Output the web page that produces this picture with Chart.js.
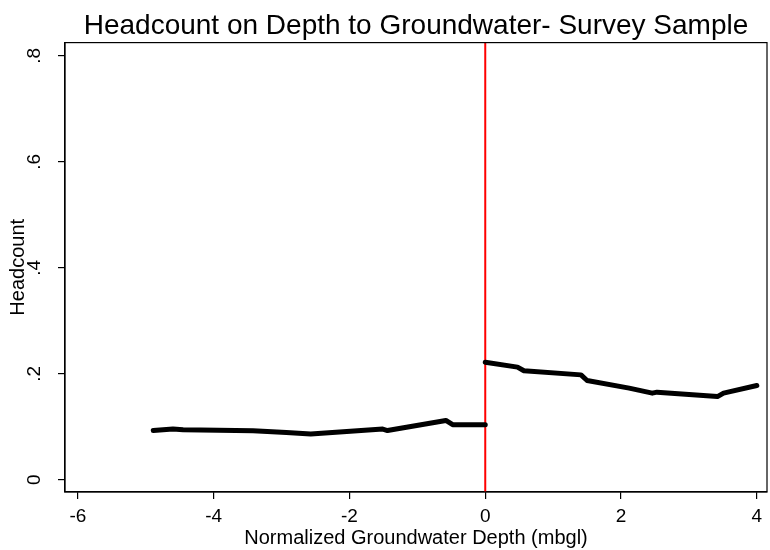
<!DOCTYPE html>
<html>
<head>
<meta charset="utf-8">
<script src="https://cdn.jsdelivr.net/npm/chart.js@4.4.1/dist/chart.umd.min.js"></script>
<style>
  html, body { margin: 0; padding: 0; background: #fff; }
  #wrap { width: 770px; height: 550px; }
</style>
</head>
<body>
<div id="wrap"><canvas id="headcount-chart" width="770" height="550"></canvas></div>
<script>
// values
var below_x = [-4.89, -4.60, -4.45, -3.42, -2.93, -2.57, -1.51, -1.44, -0.58, -0.48, 0];
var below_y = [0.093, 0.0957, 0.0943, 0.0925, 0.0892, 0.0865, 0.0957, 0.093, 0.112, 0.104, 0.104];
var above_x = [0, 0.475, 0.57, 1.41, 1.50, 2.12, 2.46, 2.53, 3.42, 3.51, 4.0];
var above_y = [0.222, 0.2126, 0.2057, 0.198, 0.1874, 0.173, 0.1635, 0.1654, 0.157, 0.1635, 0.178];
var x_ticks = [-6, -4, -2, 0, 2, 4];
var y_ticks = [0, 0.2, 0.4, 0.6, 0.8];
var y_tick_labels = ["0", ".2", ".4", ".6", ".8"];
var cutoff = 0;

var x_min = -6.19, x_max = 4.15;
var y_min = -0.023, y_max = 0.825;

var font_family = "'Liberation Sans', Arial, Helvetica, sans-serif";

function to_points(xs, ys) {
  return xs.map(function(x, i) { return { x: x, y: ys[i] } });
}

// box round the plot and rotated y tick labels
var frame_plugin = {
  id: 'frame',
  afterDraw: function(chart) {
    var ctx = chart.ctx;
    var area = chart.chartArea;
    ctx.save();
    ctx.strokeStyle = '#000';
    ctx.lineWidth = 1.2;
    ctx.strokeRect(area.left, area.top, area.right - area.left, area.bottom - area.top);

    var yScale = chart.scales.y;
    ctx.fillStyle = '#000';
    ctx.font = "19px " + font_family;
    ctx.textAlign = 'center';
    ctx.textBaseline = 'middle';
    y_ticks.forEach(function(v, i) {
      var py = yScale.getPixelForValue(v);
      ctx.save();
      ctx.translate(35, py);
      ctx.rotate(-Math.PI / 2);
      ctx.fillText(y_tick_labels[i], 0, 0);
      ctx.restore();
    });
    ctx.restore();
  }
};

var ctx = document.getElementById("headcount-chart").getContext('2d');
var chart = new Chart(ctx, {
  type: 'scatter',
  data: {
    datasets: [
      {
        label: 'below',
        data: to_points(below_x, below_y),
        showLine: true,
        borderColor: '#000',
        backgroundColor: '#000',
        borderWidth: 5,
        borderCapStyle: 'round',
        borderJoinStyle: 'round',
        pointRadius: 0,
        tension: 0
      },
      {
        label: 'above',
        data: to_points(above_x, above_y),
        showLine: true,
        borderColor: '#000',
        backgroundColor: '#000',
        borderWidth: 5,
        borderCapStyle: 'round',
        borderJoinStyle: 'round',
        pointRadius: 0,
        tension: 0
      },
      {
        label: 'cutoff',
        data: [{ x: cutoff, y: y_min }, { x: cutoff, y: y_max }],
        showLine: true,
        borderColor: '#ff0000',
        borderWidth: 2,
        pointRadius: 0
      }
    ]
  },
  options: {
    responsive: false,
    animation: false,
    layout: { padding: { left: 0, right: 3, top: 0, bottom: 0 } },
    scales: {
      x: {
        type: 'linear',
        min: x_min,
        max: x_max,
        afterBuildTicks: function(scale) {
          scale.ticks = x_ticks.map(function(v) { return { value: v } });
        },
        afterFit: function(scale) { scale.height = 58; },
        grid: {
          display: true,
          drawOnChartArea: false,
          drawTicks: true,
          tickLength: 7,
          color: '#000',
          lineWidth: 1.2
        },
        border: { display: true, color: '#000', width: 1.2 },
        ticks: {
          color: '#000',
          padding: 6,
          maxRotation: 0,
          minRotation: 0,
          font: { family: font_family, size: 19 },
          callback: function(value) { return String(value) }
        },
        title: {
          display: true,
          text: 'Normalized Groundwater Depth (mbgl)',
          color: '#000',
          font: { family: font_family, size: 20 },
          padding: { top: 0, bottom: 0 }
        }
      },
      y: {
        type: 'linear',
        min: y_min,
        max: y_max,
        afterBuildTicks: function(scale) {
          scale.ticks = y_ticks.map(function(v) { return { value: v } });
        },
        afterFit: function(scale) { scale.width = 65; },
        grid: {
          display: true,
          drawOnChartArea: false,
          drawTicks: true,
          tickLength: 7,
          color: '#000',
          lineWidth: 1.2
        },
        border: { display: true, color: '#000', width: 1.2 },
        ticks: {
          display: false
        },
        title: {
          display: true,
          text: 'Headcount',
          color: '#000',
          font: { family: font_family, size: 20 },
          padding: { top: 6, bottom: 0 }
        }
      }
    },
    plugins: {
      legend: { display: false },
      tooltip: { enabled: false },
      title: {
        display: true,
        fullSize: false,
        text: 'Headcount on Depth to Groundwater- Survey Sample',
        color: '#000',
        font: { family: font_family, size: 28, weight: 'normal' },
        padding: { top: 9, bottom: 0 }
      }
    }
  },
  plugins: [frame_plugin]
});
</script>
</body>
</html>
